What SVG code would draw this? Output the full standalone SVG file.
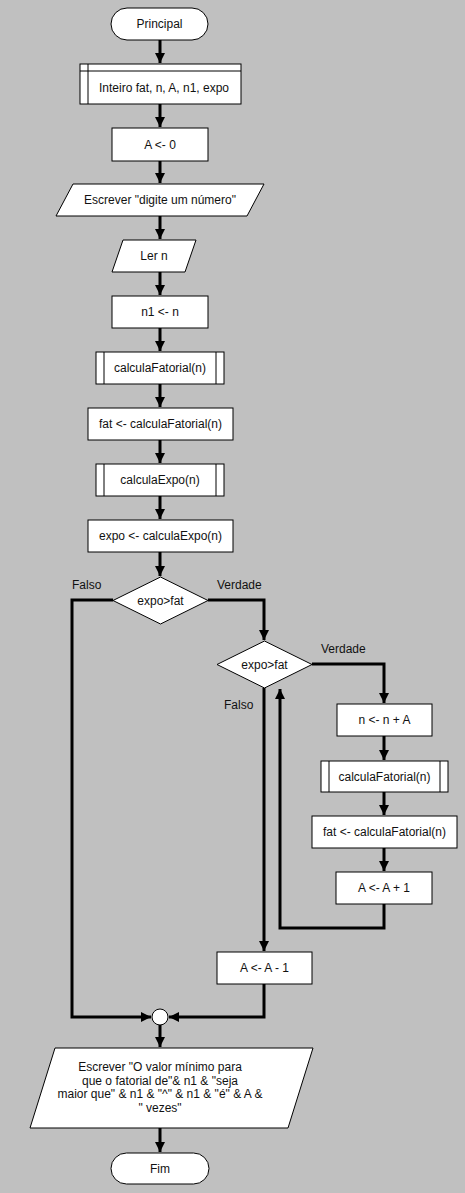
<svg xmlns="http://www.w3.org/2000/svg" width="465" height="1193" viewBox="0 0 465 1193">
<style>
.n{fill:#fff;stroke:#000;stroke-width:1}
.t{font-family:"Liberation Sans",Arial,sans-serif;font-size:12px;fill:#111;text-anchor:middle;dominant-baseline:central}
.l{font-family:"Liberation Sans",Arial,sans-serif;font-size:12px;fill:#111}
.c{fill:none;stroke:#000;stroke-width:3}
</style>
<defs>
<marker id="ar" markerUnits="userSpaceOnUse" markerWidth="12" markerHeight="12" viewBox="0 0 12 12" refX="10" refY="6" orient="auto">
<path d="M0,1 L10,6 L0,11 Z" fill="#000"/>
</marker>
</defs>
<rect width="465" height="1193" fill="#c0c0c0"/>
<g id="connectors">
<path class="c" d="M160,40 V63" marker-end="url(#ar)"/>
<path class="c" d="M160,104 V127" marker-end="url(#ar)"/>
<path class="c" d="M160,161 V183" marker-end="url(#ar)"/>
<path class="c" d="M160,216 V239" marker-end="url(#ar)"/>
<path class="c" d="M160,272 V295" marker-end="url(#ar)"/>
<path class="c" d="M160,328 V351" marker-end="url(#ar)"/>
<path class="c" d="M160,384 V407" marker-end="url(#ar)"/>
<path class="c" d="M160,440 V463" marker-end="url(#ar)"/>
<path class="c" d="M160,496 V519" marker-end="url(#ar)"/>
<path class="c" d="M160,552 V576" marker-end="url(#ar)"/>
<path class="c" d="M113,600 H72 V1017 H151" marker-end="url(#ar)"/>
<path class="c" d="M208,600 H264 V640" marker-end="url(#ar)"/>
<path class="c" d="M312,664 H384 V703" marker-end="url(#ar)"/>
<path class="c" d="M384,736 V760" marker-end="url(#ar)"/>
<path class="c" d="M384,792 V815" marker-end="url(#ar)"/>
<path class="c" d="M384,848 V871" marker-end="url(#ar)"/>
<path class="c" d="M384,904 V928 H280 V689" marker-end="url(#ar)"/>
<path class="c" d="M264,688 V951" marker-end="url(#ar)"/>
<path class="c" d="M264,984 V1017 H169" marker-end="url(#ar)"/>
<path class="c" d="M160,1025 V1047" marker-end="url(#ar)"/>
<path class="c" d="M160,1128 V1152" marker-end="url(#ar)"/>
</g>
<g id="principal"><rect class="n" x="111" y="8" width="97" height="32" rx="16"/><text class="t" x="159.5" y="24">Principal</text></g>
<g id="declare"><rect class="n" x="80" y="64" width="161" height="40"/><path d="M88,64 V104 M80,71 H241" stroke="#000" stroke-width="1"/><text class="t" x="164" y="88">Inteiro fat, n, A, n1, expo</text></g>
<g id="a0"><rect class="n" x="112" y="128" width="96" height="33"/><text class="t" x="160" y="144.5">A &lt;- 0</text></g>
<g id="escrever1"><path class="n" d="M73,184 H264 L247,216 H56 Z"/><text class="t" x="160" y="200">Escrever "digite um número"</text></g>
<g id="lern"><path class="n" d="M123,240 H196 L185,272 H112 Z"/><text class="t" x="154" y="256">Ler n</text></g>
<g id="n1n"><rect class="n" x="112" y="296" width="96" height="32"/><text class="t" x="160" y="312">n1 &lt;- n</text></g>
<g id="calcfat1"><rect class="n" x="96" y="352" width="128" height="32"/><path d="M104,352 V384 M216,352 V384" stroke="#000" stroke-width="1"/><text class="t" x="160" y="368">calculaFatorial(n)</text></g>
<g id="fat1"><rect class="n" x="88" y="408" width="145" height="32"/><text class="t" x="160.5" y="424">fat &lt;- calculaFatorial(n)</text></g>
<g id="calcexpo"><rect class="n" x="96" y="464" width="128" height="32"/><path d="M104,464 V496 M216,464 V496" stroke="#000" stroke-width="1"/><text class="t" x="160" y="480">calculaExpo(n)</text></g>
<g id="expo"><rect class="n" x="88" y="520" width="145" height="32"/><text class="t" x="160.5" y="536">expo &lt;- calculaExpo(n)</text></g>
<g id="dec1"><path class="n" d="M160.5,577 L208,600.5 L160.5,624 L113,600.5 Z"/><text class="t" x="160.5" y="600.5">expo&gt;fat</text></g>
<text class="l" x="72" y="589">Falso</text>
<text class="l" x="217" y="589">Verdade</text>
<g id="dec2"><path class="n" d="M264.5,641 L312,664.5 L264.5,688 L217,664.5 Z"/><text class="t" x="264.5" y="664.5">expo&gt;fat</text></g>
<text class="l" x="321" y="653">Verdade</text>
<text class="l" x="224" y="709">Falso</text>
<g id="nna"><rect class="n" x="337" y="704" width="95" height="32"/><text class="t" x="384.5" y="720">n &lt;- n + A</text></g>
<g id="calcfat2"><rect class="n" x="321" y="761" width="127" height="31"/><path d="M329,761 V792 M440,761 V792" stroke="#000" stroke-width="1"/><text class="t" x="384.5" y="776.5">calculaFatorial(n)</text></g>
<g id="fat2"><rect class="n" x="312" y="816" width="145" height="32"/><text class="t" x="384.5" y="832">fat &lt;- calculaFatorial(n)</text></g>
<g id="aplus"><rect class="n" x="336" y="872" width="96" height="32"/><text class="t" x="384" y="888">A &lt;- A + 1</text></g>
<g id="aminus"><rect class="n" x="217" y="952" width="95" height="32"/><text class="t" x="264.5" y="968">A &lt;- A - 1</text></g>
<g id="merge"><circle class="n" cx="160" cy="1017" r="8"/></g>
<g id="escrever2"><path class="n" d="M55,1048 H313 L288,1128 H30 Z"/>
<text class="t" x="160" y="1067">Escrever "O valor mínimo para</text>
<text class="t" x="160" y="1080.5">que o fatorial de"&amp; n1 &amp; "seja</text>
<text class="t" x="160" y="1094">maior que" &amp; n1 &amp; "^" &amp; n1 &amp; "é" &amp; A &amp;</text>
<text class="t" x="160" y="1107.5">" vezes"</text></g>
<g id="fim"><rect class="n" x="111" y="1153" width="98" height="31" rx="15.5"/><text class="t" x="160" y="1168.5">Fim</text></g>
</svg>
